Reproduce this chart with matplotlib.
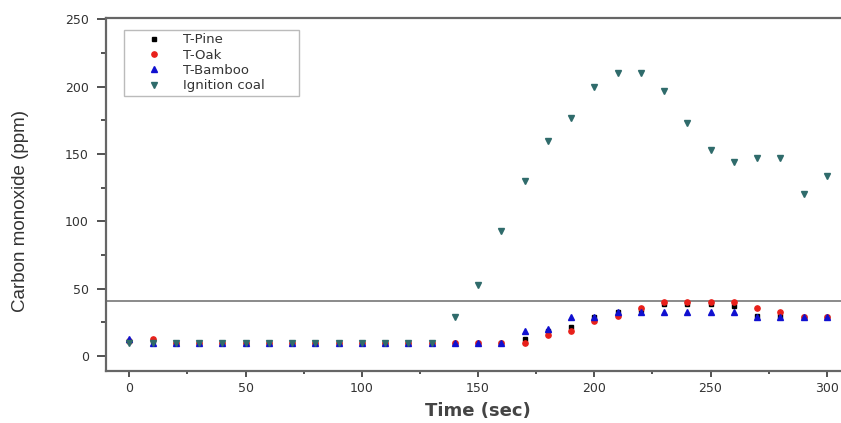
import matplotlib
matplotlib.use("Agg")
import matplotlib.pyplot as plt
from matplotlib.ticker import MultipleLocator

plt.rcParams['font.family'] = ['DejaVu Sans']

time = list(range(0, 310, 10))
t_pine = [11, 11] + [10] * 15 + [13, 19, 22, 29, 33, 34, 39, 39, 39, 37, 30, 30, 29, 29]
t_oak = [11, 13] + [10] * 15 + [10, 16, 19, 26, 30, 36, 40, 40, 40, 40, 36, 33, 29, 29]
t_bamboo = [13, 10] + [10] * 15 + [19, 20, 29, 29, 33, 33, 33, 33, 33, 33, 29, 29, 29, 29]
ignition_coal = [10] * 14 + [29, 53, 93, 130, 160, 177, 200, 210, 210, 197, 173, 153,
                             144, 147, 147, 120, 134]
threshold = 41

fig = plt.figure(figsize=(8.41, 4.23), dpi=100)
ax = fig.add_axes([106 / 841, 1 - 371 / 423, 744 / 841, 353 / 423])

ax.plot(time, t_pine, linestyle='none', marker='s', ms=3.5, color='black', label='T-Pine')
ax.plot(time, t_oak, linestyle='none', marker='o', ms=3.8, color='#e8201a', label='T-Oak')
ax.plot(time, t_bamboo, linestyle='none', marker='^', ms=4.5, color='#1010d0', label='T-Bamboo')
ax.plot(time, ignition_coal, linestyle='none', marker='v', ms=4.5, color='#2f6b6b', label='Ignition coal')
ax.axhline(threshold, color='#8a8a8a', lw=1.4, zorder=1)

ax.set_xlim(-10, 310)
ax.set_ylim(-11, 251)
ax.xaxis.set_major_locator(MultipleLocator(50))
ax.xaxis.set_minor_locator(MultipleLocator(25))
ax.yaxis.set_major_locator(MultipleLocator(50))
ax.yaxis.set_minor_locator(MultipleLocator(25))
ax.tick_params(which='both', direction='out', colors='#444444', labelcolor='#333333', labelsize=9)
ax.tick_params(axis='x', which='major', length=4.3, width=1.3, pad=3.5)
ax.tick_params(axis='x', which='minor', length=2.3, width=1.3)
ax.tick_params(axis='y', which='major', length=6.8, width=1.3, pad=5.5)
ax.tick_params(axis='y', which='minor', length=3.6, width=1.3)
for s in ax.spines.values():
    s.set_color('#666666')
    s.set_linewidth(1.6)

ax.set_xlabel('Time (sec)', fontsize=13, color='#444444', fontweight='bold')
ax.xaxis.set_label_coords(0.5, -0.088)
ax.set_ylabel('Carbon monoxide (ppm)', fontsize=13.5, color='#333333',
              family=['Liberation Sans', 'DejaVu Sans'])
ax.yaxis.set_label_coords(-0.104, 0.453)

leg_w = (299 - 124) / 744
leg_h = (97 - 30) / 353
leg = ax.legend(loc='upper left', bbox_to_anchor=(0.0242, 0.966 - leg_h, leg_w, leg_h),
                mode='expand', frameon=True, fancybox=False, edgecolor='#aaaaaa',
                handletextpad=0.22, borderpad=0.25, labelspacing=0.18, handlelength=4.0,
                borderaxespad=0, prop={'family': ['DejaVu Sans'], 'size': 9.5})
leg.get_frame().set_linewidth(1.0)
for t in leg.get_texts():
    t.set_color('#333333')

fig.savefig('out.png', dpi=100)
